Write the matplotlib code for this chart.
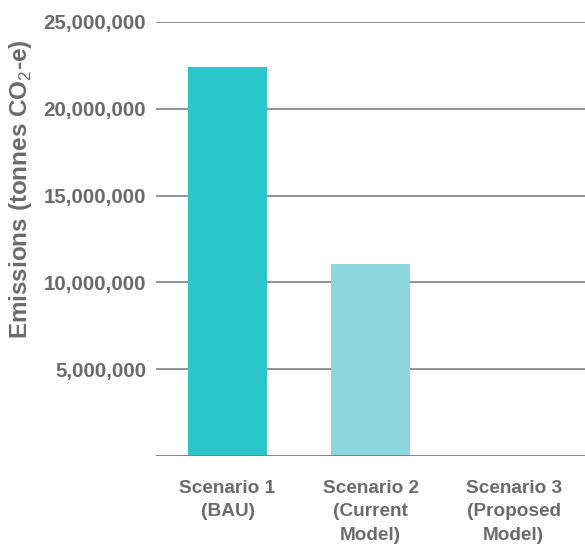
import matplotlib
matplotlib.use('Agg')
import matplotlib.pyplot as plt
from matplotlib.ticker import FuncFormatter

plt.rcParams['font.family'] = ['Liberation Sans', 'DejaVu Sans']
plt.rcParams['mathtext.fontset'] = 'custom'
plt.rcParams['mathtext.rm'] = 'Liberation Sans'
plt.rcParams['mathtext.bf'] = 'Liberation Sans:bold'

categories = ['Scenario 1\n(BAU)', 'Scenario 2\n(Current\nModel)', 'Scenario 3\n(Proposed\nModel)']
emissions = [22400000, 11050000, 0]
bar_colors = ['#2bc5cc', '#8ed6e0', '#8ed6e0']
yticks = [5000000, 10000000, 15000000, 20000000, 25000000]

txt_col = '#6b6b6b'
grid_col = '#8a8a8a'

fig = plt.figure(figsize=(5.85, 5.44), dpi=100)
ax = fig.add_axes([0.2667, 0.1618, 0.7333, 0.7978])

xpos = list(range(len(categories)))
for g in yticks:
	ax.axhline(g, color=grid_col, lw=1.3, zorder=1)
ax.bar(xpos, emissions, width=0.55, color=bar_colors, zorder=2)
ax.axhline(0, color='#7a7a7a', lw=2, zorder=3)

ax.set_xlim(-0.5, 2.5)
ax.set_ylim(0, 25000000)
ax.set_yticks(yticks)
ax.yaxis.set_major_formatter(FuncFormatter(lambda v, p: '{:,.0f}'.format(v)))
ax.set_xticks(xpos)
ax.set_xticklabels(categories, linespacing=1.5)

for s in ax.spines.values(): s.set_visible(False)
ax.tick_params(axis='y', length=0, pad=7, labelsize=14.8, labelcolor=txt_col)
ax.tick_params(axis='x', length=0, pad=17, labelsize=13.7, labelcolor=txt_col)
for lab in ax.get_yticklabels() + ax.get_xticklabels():
	lab.set_fontweight('bold')

ax.set_ylabel(r'Emissions (tonnes CO$_{\mathrm{2}}$-e)', fontsize=17.5, fontweight='bold', color=txt_col)
ax.yaxis.set_label_coords(-0.285, 0.615)

fig.savefig('out.png', dpi=100)
